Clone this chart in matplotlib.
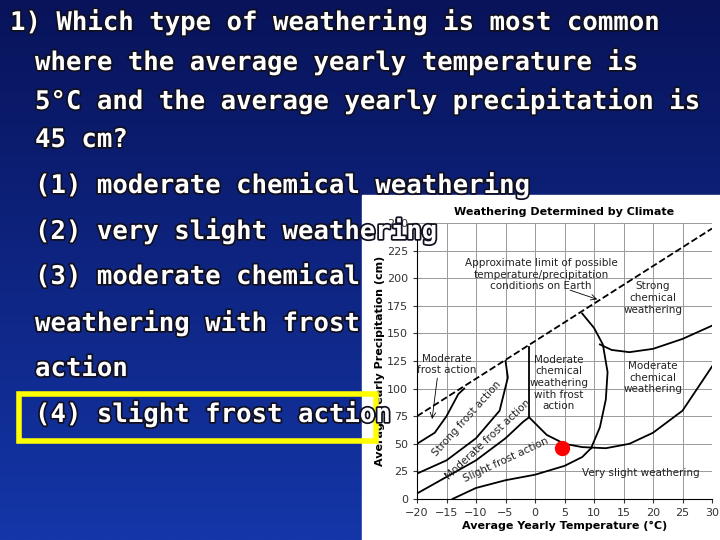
import matplotlib
matplotlib.use("Agg")
import matplotlib.pyplot as plt
import matplotlib.patheffects as pe
import numpy as np
from matplotlib.patches import Rectangle
from matplotlib.colors import LinearSegmentedColormap

lines = ["1) Which type of weathering is most common",
         "where the average yearly temperature is",
         "5°C and the average yearly precipitation is",
         "45 cm?",
         "(1) moderate chemical weathering",
         "(2) very slight weathering",
         "(3) moderate chemical",
         "weathering with frost",
         "action",
         "(4) slight frost action"]
line_y = [22, 62, 101, 140, 185, 231, 277, 323, 369, 414]

dashed_x = [-20, 30]; dashed_y = [75, 245]
c1x = [-20, -17, -15, -13, -12]; c1y = [50, 60, 75, 95, 100]
c2x = [-20, -15, -10, -6, -4.6, -5]; c2y = [23, 35, 55, 80, 110, 125]
c3x = [-20, -15, -10, -5, -2, -1]; c3y = [5, 20, 35, 55, 70, 74]
vx = [-1, -1]; vy = [74, 138]
c5x = [-1, 2, 5, 8, 12, 16, 20, 25, 30]; c5y = [74, 58, 50, 47, 46, 50, 60, 80, 120]
c4x = [-14, -10, -5, 0, 5, 8, 9.5]; c4y = [0, 10, 17, 22, 30, 38, 46]
c6x = [8, 10, 11.5, 12.3, 12, 11, 9.5]; c6y = [168, 155, 140, 115, 90, 65, 46]
c7x = [11, 13, 16, 20, 25, 30]; c7y = [140, 135, 133, 136, 145, 157]
dot_x, dot_y = 4.5, 46

fig = plt.figure(figsize=(7.2, 5.4), dpi=100)
bg = fig.add_axes([0, 0, 1, 1]); bg.axis('off')
cm = LinearSegmentedColormap.from_list('b', ['#08135a', '#1436a8'])
bg.imshow(np.outer(np.linspace(0, 1, 256), np.ones(2)), cmap=cm, aspect='auto', extent=[0, 1, 0, 1], origin='upper')
bg.set_xlim(0, 1); bg.set_ylim(0, 1)
bg.add_patch(Rectangle((362/720, 0), 1, 1 - 195/540, color='white', zorder=2))

ax = fig.add_axes([417/720, 1 - 499/540, 295/720, 276/540])
ax.set_xlim(-20, 30); ax.set_ylim(0, 250)
ax.set_xticks(range(-20, 31, 5)); ax.set_yticks(range(0, 251, 25))
ax.grid(color='#999999', lw=0.7)
for s in ['top', 'right']: ax.spines[s].set_visible(False)
ax.tick_params(labelsize=8, length=3, colors='#333333')
ax.set_xticklabels(['−20', '−15', '−10', '−5', '0', '5', '10', '15', '20', '25', '30'])
ax.set_xlabel('Average Yearly Temperature (°C)', fontsize=8, fontweight='bold', labelpad=2)
ax.set_ylabel('Average Yearly Precipitation (cm)', fontsize=8, fontweight='bold', labelpad=1)
ax.set_title('Weathering Determined by Climate', fontsize=8, fontweight='bold', pad=6)
ax.plot(dashed_x, dashed_y, 'k--', lw=1.3)
for xs, ys in [(c1x, c1y), (c2x, c2y), (c3x, c3y), (vx, vy), (c5x, c5y), (c4x, c4y), (c6x, c6y), (c7x, c7y)]:
    ax.plot(xs, ys, 'k-', lw=1.3)
ax.plot(dot_x, dot_y, 'o', color='red', ms=10)
kw = dict(fontsize=7.5, ha='center', va='center', color='#222222')
ax.text(1, 203, 'Approximate limit of possible\ntemperature/precipitation\nconditions on Earth', **kw)
ax.annotate('', xy=(11, 180), xytext=(5.5, 190), arrowprops=dict(arrowstyle='->', lw=0.6))
ax.text(20, 182, 'Strong\nchemical\nweathering', **kw)
ax.text(20, 110, 'Moderate\nchemical\nweathering', **kw)
ax.text(4, 105, 'Moderate\nchemical\nweathering\nwith frost\naction', **kw)
ax.text(-15, 122, 'Moderate\nfrost action', **kw)
ax.annotate('', xy=(-17.5, 70), xytext=(-16.5, 112), arrowprops=dict(arrowstyle='->', lw=0.6))
ax.text(-11.5, 73, 'Strong frost action', rotation=48, **kw)
ax.text(-8, 54, 'Moderate frost action', rotation=43, **kw)
ax.text(-5, 35, 'Slight frost action', rotation=25, **kw)
ax.text(18, 24, 'Very slight weathering', **kw)

eff = [pe.withStroke(linewidth=2.5, foreground='#101020')]
for i, (t, y) in enumerate(zip(lines, line_y)):
    x = 10 if i == 0 else 35
    fig.text(x / 720, 1 - y / 540, t, fontsize=18.5, family='DejaVu Sans Mono', fontweight='bold',
             color='white', va='center', ha='left', path_effects=eff, zorder=10)
fig.add_artist(Rectangle((19/720, 1 - 441/540), (376 - 19)/720, 47/540, fill=False,
                         edgecolor='#ffff00', lw=4, transform=fig.transFigure, zorder=9))
fig.savefig('out.png', dpi=100)
